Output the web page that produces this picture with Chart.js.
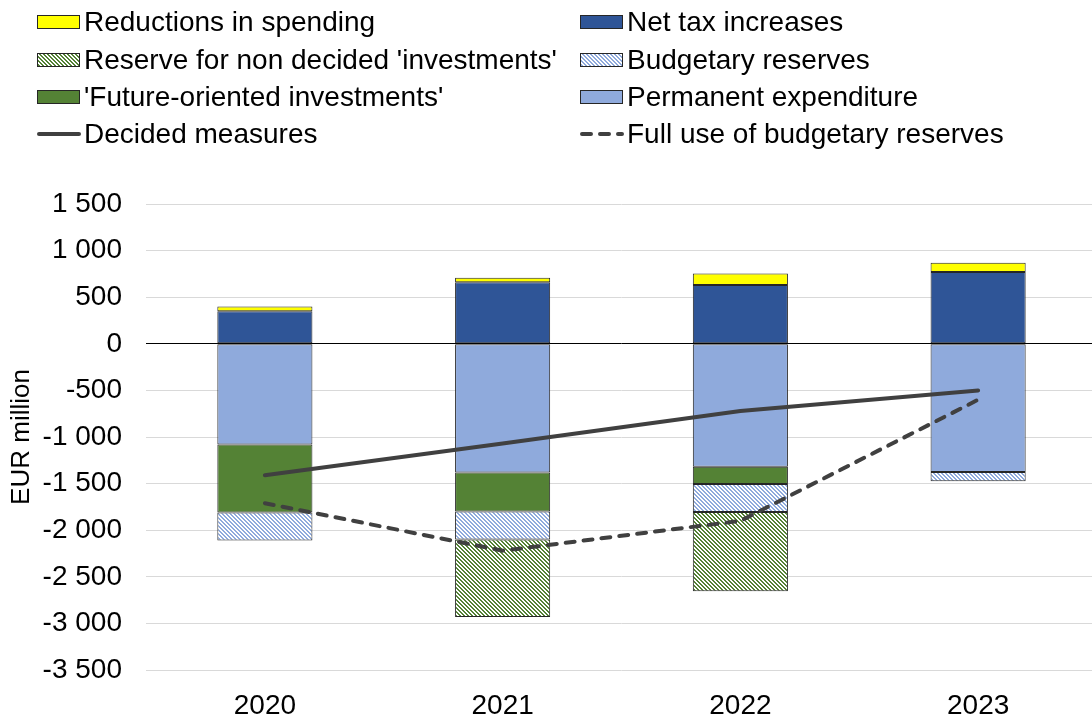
<!DOCTYPE html>
<html>
<head>
<meta charset="utf-8">
<script src="https://cdn.jsdelivr.net/npm/chart.js@4.4.1/dist/chart.umd.min.js"></script>
<style>
  html, body { margin: 0; padding: 0; background: #fff; overflow: hidden; }
  #wrap { position: relative; width: 1092px; height: 718px; overflow: hidden; }
  #chart { position: absolute; left: 0; top: 0; }
  .item { position: absolute; height: 32px; display: flex; align-items: center;
          font: 28px "Liberation Sans", Arial, sans-serif; color: #000; white-space: nowrap; }
  .item canvas { margin-right: 3px; }
</style>
</head>
<body>
<div id="wrap">
  <canvas id="chart" width="1100" height="718"></canvas>
  <div id="legend"></div>
</div>
<script>
var years = ['2020', '2021', '2022', '2023'];
var netTax = [350, 660, 630, 770];
var spendingCuts = [50, 50, 125, 100];
var permanentExp = [-1080, -1380, -1320, -1375];
var futureInv = [-730, -420, -185, null];
var budgetReserves = [-300, -300, -300, -100];
var undecidedReserve = [null, -830, -850, null];
var decided = [-1410, -1070, -720, -500];
var fullUse = [-1710, -2220, -1900, -600];
var yMin = -3500, yMax = 1500, yStep = 500;

Chart.defaults.font.family = '"Liberation Sans", Arial, sans-serif';

// small diagonal "\" stripe tile used for the reserve segments
function hatchTile(color) {
  var c = document.createElement('canvas');
  c.width = 4; c.height = 4;
  var g = c.getContext('2d');
  g.fillStyle = '#fff';
  g.fillRect(0, 0, 4, 4);
  g.fillStyle = color;
  for (var y = 0; y < 4; y++) {
    for (var x = 0; x < 4; x++) {
      if (((x - y) % 4 + 4) % 4 < 2) g.fillRect(x, y, 1, 1);
    }
  }
  return c;
}
var blueTile = hatchTile('#8FAADC');
var greenTile = hatchTile('#548235');
var ctx = document.getElementById('chart').getContext('2d');

function fmt(v) {
  var s = String(Math.abs(v)).replace(/\B(?=(\d{3})+(?!\d))/g, ' ');
  return (v < 0 ? '-' : '') + s;
}

var chart = new Chart(ctx, {
  type: 'bar',
  data: {
    labels: years,
    datasets: [
      { label: 'Net tax increases', data: netTax, backgroundColor: '#2F5597', order: 1 },
      { label: 'Reductions in spending', data: spendingCuts, backgroundColor: '#FFFF00', order: 1 },
      { label: 'Permanent expenditure', data: permanentExp, backgroundColor: '#8FAADC', order: 1 },
      { label: "'Future-oriented investments'", data: futureInv, backgroundColor: '#548235', order: 1 },
      { label: 'Budgetary reserves', data: budgetReserves, order: 1,
        backgroundColor: ctx.createPattern(blueTile, 'repeat'), tile: blueTile },
      { label: "Reserve for non decided 'investments'", data: undecidedReserve, order: 1,
        backgroundColor: ctx.createPattern(greenTile, 'repeat'), tile: greenTile },
      { type: 'line', label: 'Decided measures', data: decided, stack: 'decided', order: 0,
        borderColor: '#404040', borderWidth: 4, pointRadius: 0, borderCapStyle: 'round', fill: false },
      { type: 'line', label: 'Full use of budgetary reserves', data: fullUse, stack: 'full', order: 0,
        borderColor: '#404040', borderWidth: 4, borderDash: [9, 9], pointRadius: 0, borderCapStyle: 'round', fill: false }
    ]
  },
  options: {
    responsive: false,
    animation: false,
    layout: { padding: { top: 204, right: 3, bottom: 0, left: 0 } },
    datasets: {
      bar: { borderColor: '#262626', borderWidth: 1, borderSkipped: false,
             barPercentage: 0.4, categoryPercentage: 1 }
    },
    plugins: { legend: { display: false }, tooltip: { enabled: false } },
    scales: {
      x: {
        stacked: true,
        grid: { display: false, drawTicks: false },
        border: { display: false },
        ticks: { color: '#000', font: { size: 28 }, padding: 19 },
        afterFit: function (s) { s.height = 48; }
      },
      y: {
        stacked: true,
        min: yMin, max: yMax,
        border: { display: false },
        grid: {
          drawTicks: false,
          color: function (c) { return c.tick && c.tick.value === 0 ? '#000' : '#d9d9d9'; }
        },
        ticks: { stepSize: yStep, color: '#000', font: { size: 28 }, padding: 24, callback: fmt },
        title: { display: true, text: 'EUR million', color: '#000', font: { size: 26 }, padding: { top: 6, bottom: 0 } },
        afterFit: function (s) { s.width = 146; }
      }
    }
  }
});

// two-column legend above the plot
var legendRows = [[1, 0], [5, 4], [3, 2], [6, 7]];
var colX = [37, 580];
var rowY = [22, 60, 97, 134];
var legend = document.getElementById('legend');

function drawSwatch(ds) {
  var c = document.createElement('canvas');
  c.width = 44; c.height = 16;
  var g = c.getContext('2d');
  if (ds.type === 'line') {
    g.strokeStyle = ds.borderColor;
    g.lineWidth = 4;
    g.lineCap = 'round';
    if (ds.borderDash) g.setLineDash(ds.borderDash);
    g.beginPath();
    g.moveTo(2, 8); g.lineTo(42, 8);
    g.stroke();
  } else {
    g.fillStyle = ds.tile ? g.createPattern(ds.tile, 'repeat') : ds.backgroundColor;
    g.fillRect(0.5, 1.5, 42, 13);
    g.strokeStyle = '#262626';
    g.lineWidth = 1;
    g.strokeRect(0.5, 1.5, 42, 13);
  }
  return c;
}

legendRows.forEach(function (row, r) {
  row.forEach(function (idx, col) {
    var ds = chart.data.datasets[idx];
    var item = document.createElement('div');
    item.className = 'item';
    item.style.left = colX[col] + 'px';
    item.style.top = (rowY[r] - 16) + 'px';
    item.appendChild(drawSwatch(ds));
    var span = document.createElement('span');
    span.textContent = ds.label;
    item.appendChild(span);
    legend.appendChild(item);
  });
});
</script>
</body>
</html>
